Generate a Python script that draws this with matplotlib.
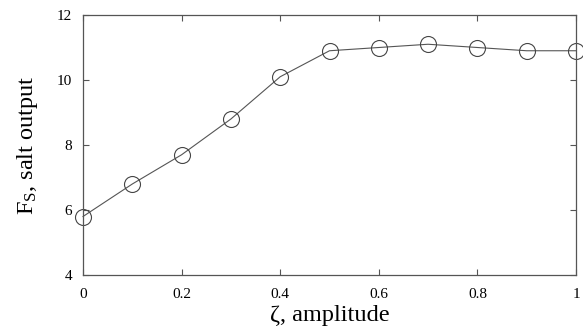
import numpy as np
import matplotlib
matplotlib.use("Agg")
import matplotlib.pyplot as plt

plt.rcParams['font.family'] = ['Liberation Serif', 'DejaVu Serif']
plt.rcParams['mathtext.fontset'] = 'custom'
plt.rcParams['mathtext.rm'] = 'Liberation Serif'
plt.rcParams['mathtext.it'] = 'Liberation Serif:italic'

# amplitude vs salt output
amplitude = [0.0, 0.1, 0.2, 0.3, 0.4, 0.5, 0.6, 0.7, 0.8, 0.9, 1.0]
salt_output = [5.8, 6.8, 7.7, 8.8, 10.1, 10.9, 11.0, 11.1, 11.0, 10.9, 10.9]

xticks = [0, 0.2, 0.4, 0.6, 0.8, 1]
xlabels = ['0', '0.2', '0.4', '0.6', '0.8', '1']
yticks = [4, 6, 8, 10, 12]

fig = plt.figure(figsize=(5.83, 3.31), dpi=100)
ax = fig.add_axes([83/583, 1-275/331, (576-83)/583, (275-15)/331])

ax.plot(amplitude, salt_output, color='#555555', lw=0.8,
        marker='o', ms=11.5, mfc='none', mec='#444444', mew=0.8, clip_on=False)

ax.set_xlim(0, 1)
ax.set_ylim(4, 12)
ax.set_xticks(xticks)
ax.set_xticklabels(xlabels)
ax.set_yticks(yticks)
ax.tick_params(direction='in', top=True, right=True, length=4, width=0.8,
               color='#555555', labelsize=11)
ax.tick_params(axis='x', pad=9)
ax.tick_params(axis='y', pad=8)
for s in ax.spines.values():
    s.set_color('#555555')
    s.set_linewidth(0.9)

ax.set_xlabel(u'\u03b6, amplitude', fontsize=17.5, labelpad=3)
ax.set_ylabel(r'F$_\mathrm{S}$, salt output', fontsize=17.5, labelpad=12)

fig.savefig('out.png', dpi=100)
